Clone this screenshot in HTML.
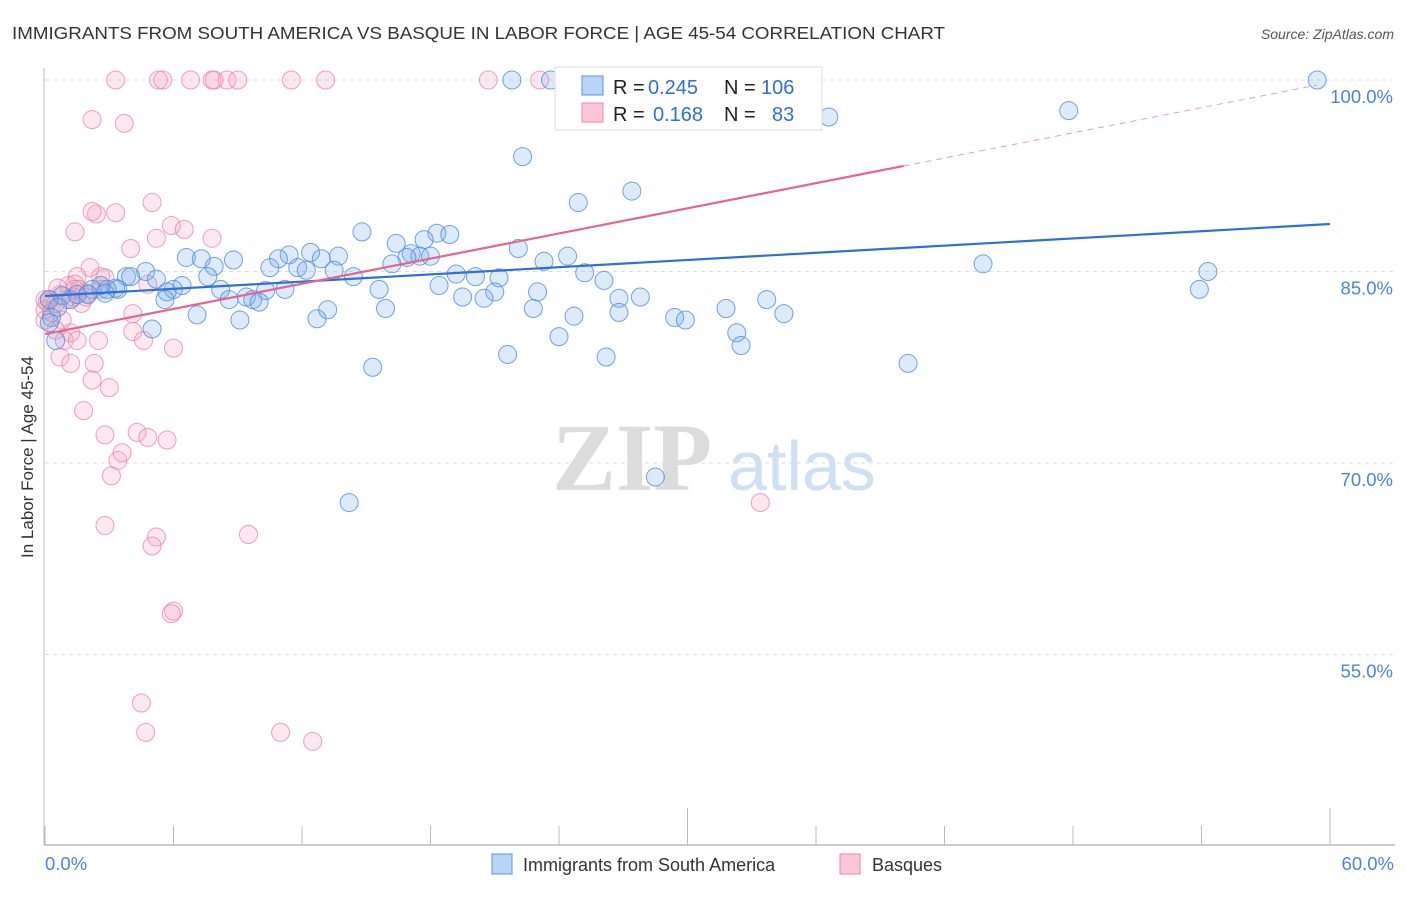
<!DOCTYPE html>
<html><head><meta charset="utf-8"><style>
body{margin:0;background:#fff;font-family:"Liberation Sans",sans-serif;}
</style></head><body>
<svg id="c" width="1406" height="892" xmlns="http://www.w3.org/2000/svg">
<text x="12" y="39" font-size="17.5" fill="#333" textLength="933" lengthAdjust="spacingAndGlyphs">IMMIGRANTS FROM SOUTH AMERICA VS BASQUE IN LABOR FORCE | AGE 45-54 CORRELATION CHART</text>
<text x="1394" y="39" font-size="14" fill="#555" font-style="italic" text-anchor="end">Source: ZipAtlas.com</text>
<g>
<text x="632" y="490" font-size="96" fill="#dcdcdc" text-anchor="middle" font-family="Liberation Serif,serif" font-weight="bold">ZIP</text>
<text x="802" y="490" font-size="70" fill="#d0e0f4" text-anchor="middle">atlas</text>
</g>
<g id="grid"></g>
<g id="axes"></g>
<g id="pts"></g>
<g id="trends"></g>
<text transform="translate(33,457) rotate(-90)" font-size="17" fill="#333" text-anchor="middle">In Labor Force | Age 45-54</text>
<g font-size="20">
<rect x="555" y="67" width="267" height="63" fill="#fff" stroke="#ddd"/>
<rect x="582" y="76" width="21" height="19" fill="#b8d4f6" stroke="#5b93e0"/>
<rect x="582" y="103" width="21" height="19" fill="#fcc6d6" stroke="#e88aa8"/>
<text x="613" y="94" fill="#222">R =</text>
<text x="648" y="94" fill="#2f6fd0">0.245</text>
<text x="724" y="94" fill="#222">N =</text>
<text x="761" y="94" fill="#2f6fd0">106</text>
<text x="613" y="121" fill="#222">R =</text>
<text x="653" y="121" fill="#2f6fd0">0.168</text>
<text x="724" y="121" fill="#222">N =</text>
<text x="772" y="121" fill="#2f6fd0">83</text>
</g>
<g>
<rect x="492" y="854" width="20" height="20" fill="#b8d4f6" stroke="#5b93e0"/>
<text x="523" y="871" font-size="18" fill="#333">Immigrants from South America</text>
<rect x="840" y="854" width="20" height="20" fill="#fcc6d6" stroke="#e88aa8"/>
<text x="872" y="871" font-size="18" fill="#333">Basques</text>
</g>
</svg>
<script>
const blueX=[59.4,47.8,36.6,22.3,27.4,24.9,14.8,18.3,18.9,17.7,16.4,22.1,12.4,24.4,13.7,11.4,10.9,17.1,17.5,16.9,18.0,16.2,23.3,8.8,6.6,7.3,12.9,7.9,10.5,11.8,12.2,13.5,14.4,19.2,20.1,21.2,25.2,26.1,43.8,54.3,4.7,5.2,3.8,7.6,6.4,6.0,5.7,8.2,10.3,11.2,15.6,18.4,21.0,23.0,5.6,4.0,2.6,3.3,3.4,2.9,2.2,2.8,1.2,0.8,1.5,2.0,0.2,0.6,0.3,0.2,0.5,8.6,9.4,9.7,10.0,19.5,20.5,26.8,27.8,33.7,7.1,9.1,12.7,13.2,15.9,22.8,24.7,26.8,29.4,29.9,31.8,34.5,32.3,32.5,24.0,21.6,26.2,15.3,40.3,53.9,5.0,28.5,14.2,21.8,23.6,35.3];
const blueY=[100,97.6,97.1,94.0,91.3,90.4,88.1,88.0,87.9,87.5,87.2,86.8,86.5,86.2,86.2,86.3,86.0,86.4,86.2,86.1,86.2,85.6,85.8,85.9,86.1,86.0,86.0,85.4,85.3,85.3,85.1,85.1,84.6,84.8,84.6,84.5,84.9,84.3,85.6,85.0,85.0,84.4,84.6,84.6,83.9,83.6,83.4,83.6,83.5,83.6,83.6,83.9,83.4,83.4,82.8,84.6,83.9,83.7,83.6,83.6,83.6,83.3,82.8,83.1,83.2,83.2,82.8,82.2,81.4,81.0,79.6,82.8,83.0,82.8,82.6,83.0,82.9,82.9,83.0,82.8,81.6,81.2,81.3,82.0,82.1,82.1,81.5,81.8,81.4,81.2,82.1,81.7,80.2,79.2,79.9,78.5,78.3,77.5,77.8,83.6,80.5,68.9,66.9,100,100,100];
const pinkX=[3.3,5.3,5.5,6.8,7.8,7.9,8.5,9.0,11.5,13.1,20.7,23.1,27.8,2.2,3.7,5.0,2.4,2.2,3.3,5.9,6.5,1.4,7.8,5.2,4.0,2.1,1.5,2.6,2.8,1.1,1.4,1.6,2.0,1.3,0.7,0.2,0.1,0.0,0.3,4.8,4.1,0.8,4.1,1.2,2.5,4.6,6.0,0.7,1.2,2.3,2.2,3.0,1.8,2.8,4.3,4.8,5.7,3.4,3.6,3.1,5.2,5.0,9.5,2.8,6.0,5.9,4.5,4.7,11.0,12.5,33.4,0.5,0.0,0.0,1.4,1.0,1.7,0.5,0.9,1.5,2.6,0.6,1.9];
const pinkY=[100,100,100,100,100,100,100,100,100,100,100,100,100,96.9,96.6,90.4,89.5,89.7,89.6,88.6,88.3,88.1,87.6,87.6,86.8,85.3,84.6,84.6,84.5,83.9,84.0,83.6,83.3,83.0,83.2,82.8,82.6,82.0,81.8,84.0,81.7,81.2,80.3,80.2,79.6,79.6,79.0,78.3,77.8,77.8,76.5,75.9,74.1,72.2,72.4,72.0,71.8,70.2,70.8,69.0,64.2,63.5,64.4,65.1,58.4,58.2,51.2,48.9,48.9,48.2,66.9,80.4,82.8,81.2,83.6,82.8,82.5,82.5,79.6,79.6,83.6,83.7,83.0];
const yTicks=[100,85,70,55];
const yTickLabels=["100.0%","85.0%","70.0%","55.0%"];
const xTicks=[0,6,12,18,24,30,36,42,48,54,60];
const xTickLabels=["0.0%","60.0%"];
const blueTrend=[83.08,88.72];
const pinkTrend=[80.1,99.8];
const pinkSolidEnd=40.1;

const X=v=>45+v/60*1285;
const Y=v=>80+(100-v)/15*191.5;
const NS="http://www.w3.org/2000/svg";
function mk(tag,attrs,parent){const e=document.createElementNS(NS,tag);for(const k in attrs)e.setAttribute(k,attrs[k]);parent.appendChild(e);return e;}
const grid=document.getElementById('grid'),axes=document.getElementById('axes'),pts=document.getElementById('pts'),tr=document.getElementById('trends');
yTicks.forEach((t,i)=>{
  const l=mk('line',{x1:45,x2:1395,y1:Y(t),y2:Y(t),stroke:'#ddd','stroke-dasharray':'4,4'},grid);
  
  
  const tx=mk('text',{x:1393,y:Y(t)+23,'font-size':18.5,fill:'#4a84dc','text-anchor':'end'},axes);
  tx.textContent=yTickLabels[i];
  
  
});
const ya=mk('line',{x1:44,x2:44,y1:68,y2:845,stroke:'#bbb'},axes);


const xa=mk('line',{x1:44,x2:1395,y1:845,y2:845,stroke:'#bbb','stroke-width':1.5},axes);


xTicks.forEach((t,i)=>{
  const long=(i===5||i===10);
  const l=mk('line',{x1:X(t),x2:X(t),y1:long?808:826,y2:845,stroke:'#bbb'},axes);
  
  
});
[[0,'start',45],[60,'end',1394]].forEach((d,i)=>{
  const tx=mk('text',{x:d[2],y:870,'font-size':18.5,fill:'#4a84dc','text-anchor':d[1]},axes);
  tx.textContent=xTickLabels[i];
  
  
});
function dots(xs,ys,fill,stroke,name){
  xs.forEach((x,i)=>{
    const c=mk('circle',{cx:X(x),cy:Y(ys[i]),r:9,fill:fill,stroke:stroke,'stroke-width':1},pts);
    
    
  });
}
dots(pinkX,pinkY,'rgba(246,165,190,0.25)','rgba(232,130,165,0.75)','basques-point');
dots(blueX,blueY,'rgba(120,170,235,0.25)','rgba(80,140,220,0.8)','south-america-point');
const bl=mk('line',{x1:X(0),y1:Y(blueTrend[0]),x2:X(60),y2:Y(blueTrend[1]),stroke:'#2f6fd6','stroke-width':2.2},tr);


const pAt=x=>pinkTrend[0]+(pinkTrend[1]-pinkTrend[0])*x/60;
const pl=mk('line',{x1:X(0),y1:Y(pAt(0)),x2:X(pinkSolidEnd),y2:Y(pAt(pinkSolidEnd)),stroke:'#e4668f','stroke-width':2.2},tr);


const pd=mk('line',{x1:X(pinkSolidEnd),y1:Y(pAt(pinkSolidEnd)),x2:X(59.4),y2:Y(pAt(59.4)),stroke:'#e4a0b8','stroke-width':1,'stroke-dasharray':'6,5'},tr);


</script>
</body></html>
